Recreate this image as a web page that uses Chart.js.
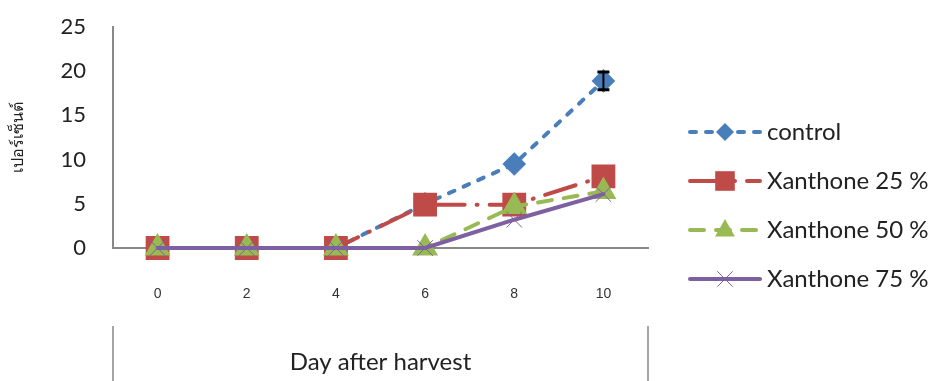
<!DOCTYPE html>
<html lang="th">
  <head>
    <meta charset="UTF-8" />
    <title>Day after harvest</title>
    <script src="https://cdn.jsdelivr.net/npm/chart.js@4.4.1/dist/chart.umd.min.js"></script>
    <style>
      body { margin: 0; background: #fff; }
      #wrap { width: 931px; height: 381px; position: relative; }
    </style>
  </head>
  <body>
    <div id="wrap"><canvas id="myChart"></canvas></div>

    <script>
      // data
      const days = ["0", "2", "4", "6", "8", "10"];
      const control = [0, 0, 0, 5, 9.5, 18.9];
      const controlErr = [0, 0, 0, 0, 0, 1];
      const xan25 = [0, 0, 0, 4.9, 4.9, 8.1];
      const xan50 = [0, 0, 0, 0, 4.7, 6.4];
      const xan75 = [0, 0, 0, 0, 3.2, 6.1];
      const seriesNames = ["control", "Xanthone 25 %", "Xanthone 50 %", "Xanthone 75 %"];
      const yTicks = [0, 5, 10, 15, 20, 25];

      const sans = "Lato, 'Open Sans', sans-serif";

      function drawMarker(ctx, style, r, x, y, color) {
        ctx.save();
        ctx.fillStyle = color;
        ctx.strokeStyle = color;
        ctx.beginPath();
        if (style === "rectRot") {
          ctx.moveTo(x, y - r); ctx.lineTo(x + r, y); ctx.lineTo(x, y + r); ctx.lineTo(x - r, y);
          ctx.closePath(); ctx.fill();
        } else if (style === "rect") {
          ctx.rect(x - r * 0.7, y - r * 0.7, r * 1.4, r * 1.4); ctx.fill();
        } else if (style === "triangle") {
          ctx.moveTo(x, y - r); ctx.lineTo(x + r * 0.9, y + r * 0.6); ctx.lineTo(x - r * 0.9, y + r * 0.6);
          ctx.closePath(); ctx.fill();
        } else {
          ctx.lineWidth = 1;
          ctx.moveTo(x - r * 0.7, y - r * 0.7); ctx.lineTo(x + r * 0.7, y + r * 0.7);
          ctx.moveTo(x + r * 0.7, y - r * 0.7); ctx.lineTo(x - r * 0.7, y + r * 0.7);
          ctx.stroke();
        }
        ctx.restore();
      }

      // error bars + legend + category frame lines
      const extras = {
        id: "extras",
        afterDatasetsDraw(chart) {
          const ctx = chart.ctx;
          const xs = chart.scales.x, ys = chart.scales.y;
          ctx.save();
          ctx.strokeStyle = "#000";
          control.forEach((v, i) => {
            if (!controlErr[i]) return;
            const x = xs.getPixelForValue(i);
            const y1 = ys.getPixelForValue(v + controlErr[i]);
            const y2 = ys.getPixelForValue(v - controlErr[i]);
            ctx.lineWidth = 2;
            ctx.beginPath();
            ctx.moveTo(x, y1); ctx.lineTo(x, y2);
            ctx.stroke();
            ctx.lineWidth = 3;
            ctx.beginPath();
            ctx.moveTo(x - 6, y1); ctx.lineTo(x + 6, y1);
            ctx.moveTo(x - 6, y2); ctx.lineTo(x + 6, y2);
            ctx.stroke();
          });
          ctx.restore();
        },
        afterDraw(chart) {
          const ctx = chart.ctx;
          const area = chart.chartArea;
          // frame lines of the category label box
          ctx.save();
          ctx.strokeStyle = "#888";
          ctx.lineWidth = 1.5;
          ctx.beginPath();
          ctx.moveTo(area.left, 326); ctx.lineTo(area.left, chart.height);
          ctx.moveTo(area.right, 326); ctx.lineTo(area.right, chart.height);
          ctx.stroke();
          ctx.restore();

          // legend
          const lx0 = area.right + 42, lx1 = lx0 + 70;
          chart.data.datasets.forEach((ds, i) => {
            const y = 132 + i * 49;
            ctx.save();
            ctx.strokeStyle = ds.borderColor;
            ctx.lineWidth = ds.borderWidth;
            ctx.lineCap = "round";
            ctx.setLineDash(ds.borderDash || []);
            ctx.beginPath();
            ctx.moveTo(lx0, y); ctx.lineTo(lx1, y);
            ctx.stroke();
            ctx.restore();
            drawMarker(ctx, ds.pointStyle, ds.pointRadius, (lx0 + lx1) / 2, y, ds.borderColor);
            ctx.save();
            ctx.fillStyle = "#222";
            ctx.font = "24px " + sans;
            ctx.textBaseline = "middle";
            ctx.fillText(ds.label, lx1 + 7, y);
            ctx.restore();
          });
        }
      };

      new Chart(document.getElementById("myChart"), {
        type: "line",
        data: {
          labels: days,
          datasets: [
            {
              label: seriesNames[0], data: control, order: 3, clip: false,
              borderColor: "#4A7EBB", backgroundColor: "#4A7EBB",
              borderWidth: 4, borderDash: [6, 10], borderCapStyle: "round",
              pointStyle: "rectRot", pointRadius: 9
            },
            {
              label: seriesNames[1], data: xan25, order: 2, clip: false,
              borderColor: "#BE4B48", backgroundColor: "#BE4B48",
              borderWidth: 4, borderDash: [32, 12, 1, 12], borderCapStyle: "round",
              pointStyle: "rect", pointRadius: 14
            },
            {
              label: seriesNames[2], data: xan50, order: 1, clip: false,
              borderColor: "#98B954", backgroundColor: "#98B954",
              borderWidth: 4, borderDash: [14, 12], borderCapStyle: "round",
              pointStyle: "triangle", pointRadius: 11
            },
            {
              label: seriesNames[3], data: xan75, order: 0, clip: false,
              borderColor: "#7D60A0", backgroundColor: "#7D60A0",
              borderWidth: 4, borderCapStyle: "round",
              pointStyle: "crossRot", pointRadius: 11, pointBorderWidth: 1
            }
          ]
        },
        options: {
          responsive: true,
          maintainAspectRatio: false,
          animation: false,
          layout: { padding: { top: 27, right: 283, left: 0, bottom: 0 } },
          plugins: { legend: { display: false }, tooltip: { enabled: false } },
          scales: {
            x: {
              type: "category",
              offset: true,
              grid: { display: false, drawTicks: false },
              border: { color: "#888", width: 2 },
              ticks: { color: "#333", padding: 38, font: { family: "'Liberation Sans', Arial", size: 14 } },
              title: {
                display: true, text: "Day after harvest", color: "#222",
                font: { family: sans, size: 24 }, padding: { top: 52 }
              },
              afterFit(s) { s.height = 133; }
            },
            y: {
              min: 0, max: 25,
              afterBuildTicks(s) { s.ticks = yTicks.map(v => ({ value: v })); },
              grid: { display: false, drawTicks: false },
              border: { color: "#888", width: 2 },
              ticks: { color: "#222", padding: 27, font: { family: sans, size: 22 } },
              title: {
                display: true, text: "เปอร์เซ็นต์", color: "#222",
                font: { family: "'Noto Sans', sans-serif", size: 16 }, padding: { top: 9, bottom: 0 }
              },
              afterFit(s) { s.width = 113; s.paddingTop = 0; s.paddingBottom = 0; }
            }
          }
        },
        plugins: [extras]
      });
    </script>
  </body>
</html>
